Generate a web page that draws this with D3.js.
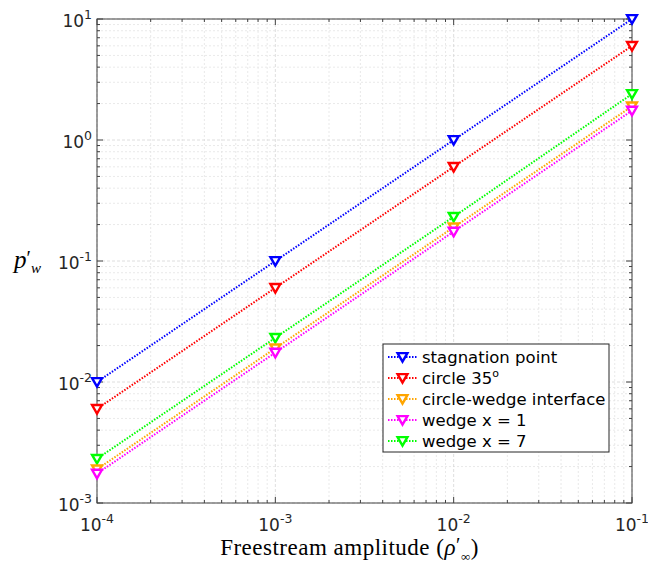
<!DOCTYPE html>
<html><head><meta charset="utf-8">
<script src="https://cdn.jsdelivr.net/npm/d3@7"></script>
<style>body{margin:0;background:#fff}svg{display:block}</style>
</head><body><svg id="c" width="648" height="564"></svg>
<script>
const xValues = [1e-4, 1e-3, 1e-2, 1e-1];
const seriesNames = ["stagnation point", "circle 35", "circle-wedge interface", "wedge x = 1", "wedge x = 7"];
const seriesColors = ["#0000ff", "#ff0000", "#ffa500", "#ff00ff", "#00ff00"];
const stagnation = [0.01, 0.1, 1, 10];
const circle35 = [0.006, 0.06, 0.6, 6];
const interfaceVals = [0.0019, 0.019, 0.19, 1.9];
const wedge1 = [0.00175, 0.0175, 0.175, 1.75];
const wedge7 = [0.00232, 0.0232, 0.232, 2.4];
const drawOrder = [0, 1, 4, 2, 3];
const allSeries = [stagnation, circle35, interfaceVals, wedge1, wedge7];
const xTickExps = [-4, -3, -2, -1];
const yTickExps = [-3, -2, -1, 0, 1];

const svg = d3.select("#c");
const L = 97, R = 632, T = 19, B = 503;
const x = d3.scaleLog().domain([1e-4, 1e-1]).range([L, R]);
const y = d3.scaleLog().domain([1e-3, 1e1]).range([B, T]);

const xMinor = [], yMinor = [];
for (let e = -4; e < -1; e++) for (let m = 2; m <= 9; m++) xMinor.push(m * Math.pow(10, e));
for (let e = -3; e < 1; e++) for (let m = 2; m <= 9; m++) yMinor.push(m * Math.pow(10, e));

const g = svg.append("g");
g.selectAll(".xm").data(xMinor).enter().append("line")
  .attr("x1", d => x(d)).attr("x2", d => x(d)).attr("y1", T).attr("y2", B)
  .attr("stroke", "#e3e3e3").attr("stroke-width", 0.8).attr("stroke-dasharray", "2,2");
g.selectAll(".ym").data(yMinor).enter().append("line")
  .attr("y1", d => y(d)).attr("y2", d => y(d)).attr("x1", L).attr("x2", R)
  .attr("stroke", "#e3e3e3").attr("stroke-width", 0.8).attr("stroke-dasharray", "2,2");
g.selectAll(".xM").data(xTickExps).enter().append("line")
  .attr("x1", d => x(Math.pow(10, d))).attr("x2", d => x(Math.pow(10, d))).attr("y1", T).attr("y2", B)
  .attr("stroke", "#d6d6d6").attr("stroke-width", 0.8).attr("stroke-dasharray", "3,2");
g.selectAll(".yM").data(yTickExps).enter().append("line")
  .attr("y1", d => y(Math.pow(10, d))).attr("y2", d => y(Math.pow(10, d))).attr("x1", L).attr("x2", R)
  .attr("stroke", "#d6d6d6").attr("stroke-width", 0.8).attr("stroke-dasharray", "3,2");

const axCol = "#404040";
function ticksAll(sel, vals, len) {
  vals.forEach(v => {
    const xv = x(v);
    sel.append("line").attr("x1", xv).attr("x2", xv).attr("y1", B).attr("y2", B - len).attr("stroke", axCol);
    sel.append("line").attr("x1", xv).attr("x2", xv).attr("y1", T).attr("y2", T + len).attr("stroke", axCol);
  });
}
function ticksAllY(sel, vals, len) {
  vals.forEach(v => {
    const yv = y(v);
    sel.append("line").attr("y1", yv).attr("y2", yv).attr("x1", L).attr("x2", L + len).attr("stroke", axCol);
    sel.append("line").attr("y1", yv).attr("y2", yv).attr("x1", R).attr("x2", R - len).attr("stroke", axCol);
  });
}
const tg = svg.append("g");
ticksAll(tg, xMinor, 3);
ticksAll(tg, xTickExps.map(e => Math.pow(10, e)), 6);
ticksAllY(tg, yMinor, 3);
ticksAllY(tg, yTickExps.map(e => Math.pow(10, e)), 6);
svg.append("rect").attr("x", L).attr("y", T).attr("width", R - L).attr("height", B - T)
  .attr("fill", "none").attr("stroke", axCol).attr("stroke-width", 1);

const font = "DejaVu Sans, sans-serif";
xTickExps.forEach(e => {
  const t = svg.append("text").attr("x", x(Math.pow(10, e))).attr("y", B + 27.5)
    .attr("text-anchor", "middle").attr("font-family", font).attr("font-size", 17).attr("fill", "#262626");
  t.append("tspan").text("10");
  t.append("tspan").attr("dy", -8).attr("font-size", 12.5).text(e);
});
yTickExps.forEach(e => {
  const t = svg.append("text").attr("x", L - 5).attr("y", y(Math.pow(10, e)) + 8)
    .attr("text-anchor", "end").attr("font-family", font).attr("font-size", 17).attr("fill", "#262626");
  t.append("tspan").text("10");
  t.append("tspan").attr("dy", -8).attr("font-size", 12.5).text(e);
});

// axis labels
const xl = svg.append("text").attr("x", (L + R) / 2 - 15).attr("y", 555).attr("text-anchor", "middle")
  .attr("font-family", "Liberation Serif, serif").attr("font-size", 23).attr("letter-spacing", 0.5).attr("fill", "#000");
xl.append("tspan").text("Freestream amplitude (");
xl.append("tspan").attr("font-style", "italic").text("ρ");
xl.append("tspan").attr("dy", -3).attr("font-size", 20).text("′");
xl.append("tspan").attr("dy", 9).attr("font-size", 13).text("∞");
xl.append("tspan").attr("dy", -6).text(")");

const yl = svg.append("text").attr("x", 14).attr("y", 268)
  .attr("font-family", "Liberation Serif, serif").attr("font-size", 25).attr("fill", "#000");
yl.append("tspan").attr("font-style", "italic").text("p");
yl.append("tspan").attr("dy", -3).attr("font-size", 20).text("′");
yl.append("tspan").attr("dy", 8).attr("font-size", 15).attr("font-style", "italic").text("w");

// series
const line = d3.line().x((d, i) => x(xValues[i])).y(d => y(d));
const tri = d3.symbol().type(d3.symbolTriangle).size(42);
drawOrder.forEach(si => {
  const vals = allSeries[si];
  const col = seriesColors[si];
  svg.append("path").datum(vals).attr("d", line).attr("fill", "none")
    .attr("stroke", col).attr("stroke-width", 2).attr("stroke-dasharray", "1.5,1.5");
  svg.selectAll(null).data(vals).enter().append("path")
    .attr("d", tri).attr("transform", (d, i) => `translate(${x(xValues[i])},${y(d) - 1}) rotate(180)`)
    .attr("fill", "#fff").attr("stroke", col).attr("stroke-width", 2.4);
});

// legend
const lg = svg.append("g");
lg.append("rect").attr("x", 383).attr("y", 344).attr("width", 226).attr("height", 108)
  .attr("fill", "#fff").attr("stroke", "#262626").attr("stroke-width", 1);
seriesNames.forEach((n, i) => {
  const yy = 357 + i * 21;
  lg.append("line").attr("x1", 388).attr("x2", 417).attr("y1", yy).attr("y2", yy)
    .attr("stroke", seriesColors[i]).attr("stroke-width", 2).attr("stroke-dasharray", "1.5,1.5");
  lg.append("path").attr("d", tri).attr("transform", `translate(402.5,${yy - 1}) rotate(180)`)
    .attr("fill", "#fff").attr("stroke", seriesColors[i]).attr("stroke-width", 2.4);
  const t = lg.append("text").attr("x", 422).attr("y", yy + 6).attr("font-family", font)
    .attr("font-size", 16.5).attr("fill", "#000");
  t.append("tspan").text(n);
  if (i === 1) t.append("tspan").attr("dy", -7).attr("font-size", 11).text("o");
});
</script></body></html>
